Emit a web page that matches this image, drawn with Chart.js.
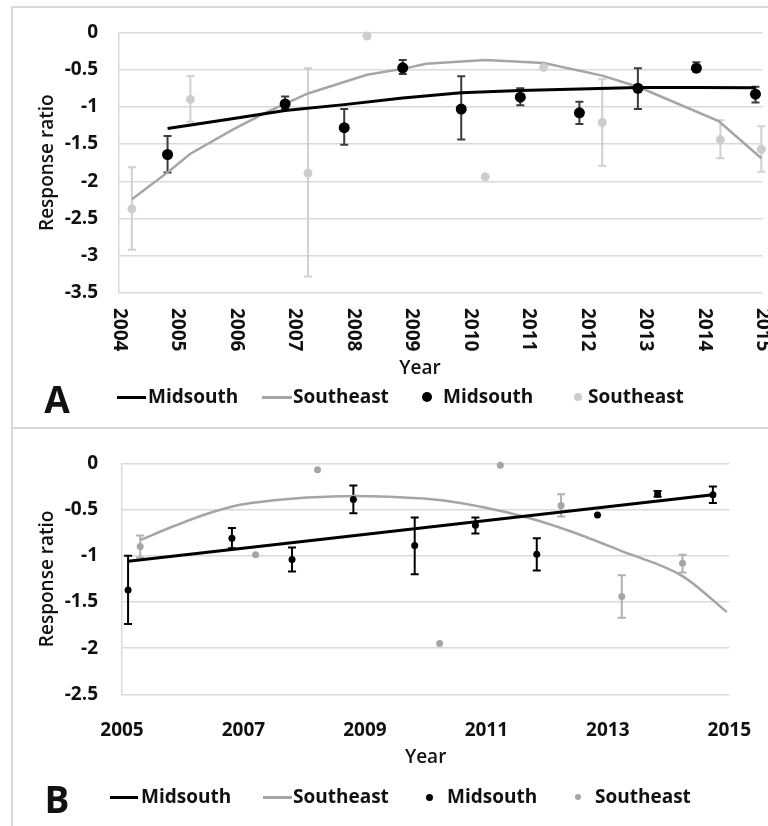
<!DOCTYPE html>
<html>
<head>
<meta charset="utf-8">
<script src="https://cdn.jsdelivr.net/npm/chart.js@4/dist/chart.umd.min.js"></script>
<style>
  body { margin: 0; background: #fff; }
  #wrap { position: relative; width: 768px; height: 826px; overflow: hidden; background: #fff; font-family: 'Open Sans', sans-serif; color: #111; }
  .rule { position: absolute; background: #d9d9d9; }
  canvas { position: absolute; left: 0; }
  .tag { position: absolute; font-weight: 700; font-size: 37px; line-height: 1; transform: translate(-50%, -50%); }
  .leg { position: absolute; font-weight: 700; font-size: 19px; line-height: 1; transform: translateY(-55%); white-space: nowrap; }
  .sw { position: absolute; }
</style>
</head>
<body>
<div id="wrap">
  <div class="rule" style="left:11px;top:6px;width:2px;height:820px"></div>
  <div class="rule" style="left:11px;top:6px;width:757px;height:2px"></div>
  <div class="rule" style="left:11px;top:427px;width:757px;height:2px"></div>
  <canvas id="chartA" width="768" height="385" style="top:0"></canvas>
  <canvas id="chartB" width="768" height="360" style="top:428px"></canvas>
  <div id="legA"></div>
  <div id="legB"></div>
</div>
<script>
// ---- panel A data ----
var yearsA = [2004, 2005, 2006, 2007, 2008, 2009, 2010, 2011, 2012, 2013, 2014, 2015];
var ticksA = [0, -0.5, -1, -1.5, -2, -2.5, -3, -3.5];

var midA_x  = [2004.83, 2006.84, 2007.85, 2008.85, 2009.85, 2010.86, 2011.87, 2012.87, 2013.87, 2014.88];
var midA_y  = [-1.64, -0.96, -1.28, -0.475, -1.03, -0.87, -1.08, -0.75, -0.48, -0.83];
var midA_hi = [-1.39, -0.86, -1.03, -0.37, -0.59, -0.75, -0.93, -0.48, -0.40, -0.73];
var midA_lo = [-1.88, -1.03, -1.51, -0.56, -1.44, -0.98, -1.23, -1.03, -0.53, -0.94];

var seA_x  = [2004.22, 2005.22, 2007.23, 2008.24, 2010.26, 2011.26, 2012.26, 2014.28, 2014.98];
var seA_y  = [-2.37, -0.90, -1.89, -0.05, -1.94, -0.47, -1.21, -1.44, -1.57];
var seA_hi = [-1.81, -0.585, -0.48, null, null, null, -0.63, -1.18, -1.26];
var seA_lo = [-2.92, -1.20, -3.28, null, null, null, -1.79, -1.69, -1.87];

var trendMidA_x = [2004.83, 2005.85, 2006.84, 2007.85, 2008.85, 2009.85, 2010.86, 2011.87, 2012.87, 2013.87, 2014.88];
var trendMidA_y = [-1.29, -1.17, -1.05, -0.97, -0.88, -0.81, -0.78, -0.76, -0.74, -0.74, -0.745];
var trendSeA_x = [2004.22, 2004.83, 2005.22, 2005.96, 2006.5, 2007.23, 2008.24, 2008.85, 2009.25, 2010.26, 2011.26, 2012.26, 2012.87, 2014.25, 2014.98];
var trendSeA_y = [-2.24, -1.88, -1.63, -1.30, -1.08, -0.82, -0.57, -0.49, -0.42, -0.37, -0.41, -0.58, -0.73, -1.19, -1.69];

// ---- panel B data ----
var yearsB = [2005, 2007, 2009, 2011, 2013, 2015];
var ticksB = [0, -0.5, -1, -1.5, -2, -2.5];

var midB_x  = [2005.10, 2006.81, 2007.80, 2008.81, 2009.82, 2010.82, 2011.83, 2012.83, 2013.82, 2014.73];
var midB_y  = [-1.37, -0.81, -1.04, -0.39, -0.89, -0.67, -0.985, -0.56, -0.33, -0.34];
var midB_hi = [-1.00, -0.70, -0.91, -0.24, -0.585, -0.585, -0.81, null, -0.30, -0.25];
var midB_lo = [-1.74, -0.92, -1.17, -0.54, -1.20, -0.76, -1.16, null, -0.36, -0.43];

var seB_x  = [2005.30, 2007.20, 2008.22, 2010.23, 2011.23, 2012.23, 2013.23, 2014.23];
var seB_y  = [-0.90, -0.99, -0.07, -1.95, -0.02, -0.455, -1.44, -1.08];
var seB_hi = [-0.78, null, null, null, null, -0.335, -1.21, -0.99];
var seB_lo = [-1.02, null, null, null, null, -0.575, -1.67, -1.18];

var trendMidB_x = [2005.10, 2014.73];
var trendMidB_y = [-1.06, -0.34];
var trendSeB_x = [2005.30, 2005.89, 2006.43, 2006.97, 2007.51, 2008.05, 2008.81, 2009.40, 2010.27, 2011.67, 2012.43, 2013.23, 2014.23, 2014.96];
var trendSeB_y = [-0.83, -0.67, -0.54, -0.445, -0.40, -0.37, -0.352, -0.362, -0.40, -0.585, -0.745, -0.95, -1.22, -1.61];

var seriesNames = ['Midsouth', 'Southeast', 'Midsouth', 'Southeast'];

function pts(xs, ys) {
  return xs.map(function (x, i) { return { x: x, y: ys[i] }; });
}

Chart.defaults.font.family = "'Open Sans', sans-serif";
Chart.defaults.color = '#111';

// vertical error bars read from dataset.errHi / errLo
var errorBars = {
  id: 'errorBars',
  beforeDatasetsDraw: function (chart) {
    var ctx = chart.ctx, xs = chart.scales.x, ys = chart.scales.y;
    chart.data.datasets.forEach(function (ds) {
      if (!ds.errHi) return;
      ctx.save();
      ctx.strokeStyle = ds.errColor;
      ctx.lineWidth = ds.errWidth;
      ds.data.forEach(function (p, i) {
        if (ds.errHi[i] == null) return;
        var px = xs.getPixelForValue(p.x);
        var t = ys.getPixelForValue(ds.errHi[i]);
        var b = ys.getPixelForValue(ds.errLo[i]);
        var c = ds.errCap;
        ctx.beginPath();
        ctx.moveTo(px, t); ctx.lineTo(px, b);
        ctx.moveTo(px - c, t); ctx.lineTo(px + c, t);
        ctx.moveTo(px - c, b); ctx.lineTo(px + c, b);
        ctx.stroke();
      });
      ctx.restore();
    });
  }
};

// year labels turned clockwise and an off-centre axis title (panel A)
var downLabels = {
  id: 'downLabels',
  afterDraw: function (chart, args, opts) {
    if (!opts.on) return;
    var ctx = chart.ctx, s = chart.scales.x;
    ctx.save();
    ctx.font = "700 19px 'Open Sans'";
    ctx.fillStyle = '#111';
    ctx.textAlign = 'left';
    ctx.textBaseline = 'middle';
    s.ticks.forEach(function (t, i) {
      var px = s.getPixelForTick(i);
      ctx.save();
      ctx.translate(px, s.top + opts.gap);
      ctx.rotate(Math.PI / 2);
      ctx.fillText(String(t.value), 0, 0);
      ctx.restore();
    });
    ctx.font = "600 19px 'Open Sans'";
    ctx.textAlign = 'center';
    ctx.fillText(opts.title, opts.titleX, opts.titleY);
    ctx.restore();
  }
};

function makeChart(id, cfg) {
  return new Chart(document.getElementById(id), {
    type: 'scatter',
    data: {
      datasets: [
        { label: seriesNames[0], data: pts(cfg.tmx, cfg.tmy), showLine: true, borderColor: '#000', borderWidth: 3,
          pointRadius: 0, tension: 0, cubicInterpolationMode: cfg.smooth ? 'monotone' : 'default', order: 2 },
        { label: seriesNames[1], data: pts(cfg.tsx, cfg.tsy), showLine: true, borderColor: '#a5a5a5', borderWidth: 2.5,
          pointRadius: 0, tension: 0, cubicInterpolationMode: cfg.smooth ? 'monotone' : 'default', order: 3 },
        { label: seriesNames[2], data: pts(cfg.mx, cfg.my), backgroundColor: '#000', borderWidth: 0,
          pointRadius: cfg.rMid, errHi: cfg.mhi, errLo: cfg.mlo, errColor: cfg.errMid, errWidth: 2, errCap: 4, clip: false, order: 0 },
        { label: seriesNames[3], data: pts(cfg.sx, cfg.sy), backgroundColor: cfg.grayPt, borderWidth: 0,
          pointRadius: cfg.rSe, errHi: cfg.shi, errLo: cfg.slo, errColor: cfg.errSe, errWidth: 2, errCap: 4, clip: false, order: 1 }
      ]
    },
    options: {
      responsive: false,
      animation: false,
      events: [],
      layout: { padding: cfg.pad },
      plugins: {
        legend: { display: false }, tooltip: { enabled: false },
        downLabels: { on: cfg.down, gap: 15, title: 'Year', titleX: 420, titleY: 369 }
      },
      scales: {
        x: {
          type: 'linear', min: cfg.years[0], max: cfg.years[cfg.years.length - 1],
          afterBuildTicks: function (s) { s.ticks = cfg.years.map(function (v) { return { value: v }; }); },
          afterFit: function (s) { s.height = cfg.xh; },
          grid: { display: false },
          border: { display: false },
          ticks: { display: !cfg.down, padding: cfg.xpad, maxRotation: 0, font: { size: 19, weight: '700' },
                   callback: function (v) { return String(v); } },
          title: { display: !cfg.down, text: 'Year', font: { size: 19, weight: '600' }, padding: { top: 0, bottom: cfg.xtb } }
        },
        y: {
          min: cfg.yt[cfg.yt.length - 1], max: 0,
          afterBuildTicks: function (s) { s.ticks = cfg.yt.slice().reverse().map(function (v) { return { value: v }; }); },
          afterFit: function (s) { s.width = cfg.yw; },
          grid: { color: '#d9d9d9', lineWidth: 1.5, drawTicks: false },
          border: { display: true, color: '#d9d9d9', width: 1.5 },
          ticks: { padding: cfg.ypad, font: { size: 19, weight: '700' }, callback: function (v) { return String(v); } },
          title: { display: true, text: 'Response ratio', font: { size: 19, weight: '600' }, padding: { top: 36.6, bottom: 0 } }
        }
      }
    },
    plugins: [errorBars, downLabels]
  });
}

makeChart('chartA', {
  years: yearsA, yt: ticksA, down: true, smooth: false,
  tmx: trendMidA_x, tmy: trendMidA_y, tsx: trendSeA_x, tsy: trendSeA_y,
  mx: midA_x, my: midA_y, mhi: midA_hi, mlo: midA_lo,
  sx: seA_x, sy: seA_y, shi: seA_hi, slo: seA_lo,
  rMid: 5.5, rSe: 4.5, grayPt: '#cdcdcd', errMid: '#3c3c3c', errSe: '#d0d0d0',
  pad: { top: 28, right: 4, left: 0, bottom: 0 }, xh: 92, xpad: 0, xtb: 4.6, yw: 119, ypad: 21
});

makeChart('chartB', {
  years: yearsB, yt: ticksB, down: false, smooth: true,
  tmx: trendMidB_x, tmy: trendMidB_y, tsx: trendSeB_x, tsy: trendSeB_y,
  mx: midB_x, my: midB_y, mhi: midB_hi, mlo: midB_lo,
  sx: seB_x, sy: seB_y, shi: seB_hi, slo: seB_lo,
  rMid: 3.5, rSe: 3.5, grayPt: '#a5a5a5', errMid: '#000', errSe: '#b0b0b0',
  pad: { top: 23, right: 27, left: 0, bottom: 0 }, xh: 93.7, xpad: 17, xtb: 18.6, yw: 122, ypad: 24
});

// legends (HTML), one row per panel
function legend(id, top, tag, items, dotMid, dotSe, dotSeColor) {
  var box = document.getElementById(id);
  var html = '<div class="tag" style="left:57px;top:' + (top + 1) + 'px">' + tag + '</div>';
  items.forEach(function (it, i) {
    if (i < 2) {
      var col = i === 0 ? '#000' : '#a5a5a5';
      html += '<div class="sw" style="left:' + it[0] + 'px;top:' + (top - 1.5) + 'px;width:' + it[1] + 'px;height:3px;background:' + col + '"></div>';
    } else {
      var r = i === 2 ? dotMid : dotSe, c = i === 2 ? '#000' : dotSeColor;
      html += '<div class="sw" style="left:' + (it[0] - r) + 'px;top:' + (top - r) + 'px;width:' + 2 * r + 'px;height:' + 2 * r + 'px;border-radius:50%;background:' + c + '"></div>';
    }
    html += '<div class="leg" style="left:' + it[2] + 'px;top:' + top + 'px">' + seriesNames[i] + '</div>';
  });
  box.innerHTML = html;
}
legend('legA', 397, 'A', [[117, 29, 148], [262, 30, 293], [427, 0, 443], [578, 0, 588]], 5, 4, '#cdcdcd');
legend('legB', 797, 'B', [[110, 28, 141], [263, 29, 293], [429, 0, 447], [578, 0, 595]], 3.5, 3, '#a5a5a5');
</script>
</body>
</html>
